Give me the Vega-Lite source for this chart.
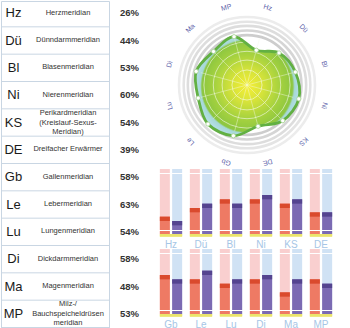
{
 "$schema": "https://vega.github.io/schema/vega-lite/v6.json",
 "padding": 0,
 "spacing": 0,
 "background": "#ffffff",
 "config": {"view": {"stroke": null}, "font": "Liberation Sans", "axisY": {"minExtent": 0}},
 "datasets": {
  "m": [
   {"code": "Hz", "name": "Herzmeridian", "pct": 26, "row": 1, "L": 4, "R": 3},
   {"code": "Dü", "name": "Dünndarmmeridian", "pct": 44, "row": 1, "L": 6, "R": 7},
   {"code": "Bl", "name": "Blasenmeridian", "pct": 53, "row": 1, "L": 8, "R": 7},
   {"code": "Ni", "name": "Nierenmeridian", "pct": 60, "row": 1, "L": 8, "R": 9},
   {"code": "KS", "name": "Perikardmeridian\n(Kreislauf-Sexus-\nMeridian)", "pct": 54, "row": 1, "L": 7, "R": 8},
   {"code": "DE", "name": "Dreifacher Erwärmer", "pct": 39, "row": 1, "L": 5, "R": 5},
   {"code": "Gb", "name": "Gallenmeridian", "pct": 58, "row": 2, "L": 9, "R": 8},
   {"code": "Le", "name": "Lebermeridian", "pct": 63, "row": 2, "L": 8, "R": 10},
   {"code": "Lu", "name": "Lungenmeridian", "pct": 54, "row": 2, "L": 7, "R": 8},
   {"code": "Di", "name": "Dickdarmmeridian", "pct": 58, "row": 2, "L": 8, "R": 9},
   {"code": "Ma", "name": "Magenmeridian", "pct": 48, "row": 2, "L": 5, "R": 8},
   {"code": "MP", "name": "Milz-/\nBauchspeicheldrüsen\nmeridian", "pct": 53, "row": 2, "L": 8, "R": 7}
  ],
  "rings": [{"u": 96}, {"u": 105}, {"u": 114}, {"u": 122}, {"u": 131}],
  "grid": [{"u": 29}, {"u": 48}, {"u": 65}, {"u": 83}]
 },
 "hconcat": [
  {
   "width": 108, "height": 328,
   "view": {"stroke": "#c9d6e3", "strokeWidth": 1},
   "data": {"name": "m"},
   "layer": [
    {"mark": {"type": "rule", "color": "#c9d6e3", "strokeWidth": 1, "yOffset": -1.5},
     "encoding": {"y": {"field": "code", "type": "nominal", "sort": null, "bandPosition": 1, "scale": {"type": "band", "paddingInner": 0, "paddingOuter": 0}, "axis": null}}},
    {"mark": {"type": "text", "fontSize": 13, "color": "#1a1a1a", "baseline": "middle", "dy": -1.5},
     "encoding": {
      "y": {"field": "code", "type": "nominal", "sort": null},
      "x": {"datum": "code", "type": "nominal", "scale": {"type": "point", "domain": ["code", "name"], "padding": 0.4908, "align": 0.2336}, "axis": null},
      "text": {"field": "code"}}},
    {"transform": [{"filter": "indexof(datum.name, '\\n') < 0"}],
     "mark": {"type": "text", "fontSize": 7.5, "color": "#333333", "baseline": "middle", "dy": -2},
     "encoding": {
      "y": {"field": "code", "type": "nominal", "sort": null},
      "x": {"datum": "name", "type": "nominal"},
      "text": {"field": "name"}}},
    {"transform": [{"filter": "indexof(datum.name, '\\n') >= 0"}],
     "mark": {"type": "text", "fontSize": 7.5, "color": "#333333", "lineBreak": "\n", "lineHeight": 9.5, "baseline": "middle", "dy": -11},
     "encoding": {
      "y": {"field": "code", "type": "nominal", "sort": null},
      "x": {"datum": "name", "type": "nominal"},
      "text": {"field": "name"}}}
   ]
  },
  {
   "width": 46, "height": 328,
   "data": {"name": "m"},
   "transform": [{"calculate": "datum.pct + '%'", "as": "lab"}],
   "mark": {"type": "text", "fontSize": 9.5, "fontWeight": "bold", "color": "#333333", "dx": -3.5, "dy": -1.5},
   "encoding": {
    "y": {"field": "code", "type": "nominal", "sort": null, "scale": {"type": "band", "paddingInner": 0, "paddingOuter": 0}, "axis": null},
    "text": {"field": "lab"}}
  },
  {
   "spacing": 0,
   "vconcat": [
    {
     "width": 182, "height": 168,
     "layer": [
      {"data": {"name": "rings"},
       "mark": {"type": "point", "shape": "circle", "filled": false, "strokeWidth": 2.6, "opacity": 1},
       "encoding": {
        "x": {"datum": 0, "type": "quantitative", "scale": {"domain": [-175.3, 175.3], "nice": false, "zero": false}, "axis": null},
        "y": {"datum": 0, "type": "quantitative", "scale": {"domain": [-161.85, 161.85], "nice": false, "zero": false}, "axis": null},
        "size": {"field": "u", "type": "quantitative", "scale": {"type": "pow", "exponent": 2, "domain": [0, 100], "range": [0, 10774]}, "legend": null},
        "color": {"field": "u", "type": "quantitative", "scale": {"range": ["#cdcdcd", "#ececec"]}, "legend": null}}},
      {"data": {"name": "m"},
       "transform": [
        {"window": [{"op": "row_number", "as": "idx"}]},
        {"calculate": "(datum.idx*30-15)*PI/180", "as": "th"},
        {"calculate": "(datum.pct+43.35)*sin(datum.th)", "as": "x"},
        {"calculate": "(datum.pct+43.35)*cos(datum.th)", "as": "y"}
       ],
       "mark": {"type": "line", "interpolate": "cardinal-closed", "strokeWidth": 0,
        "fill": {"gradient": "radial", "x1": 0.5, "y1": 0.5, "x2": 0.5, "y2": 0.5, "r1": 0, "r2": 0.5,
         "stops": [{"offset": 0, "color": "#f6ef36"}, {"offset": 0.3, "color": "#d6e33a"}, {"offset": 0.62, "color": "#a6d23f"}, {"offset": 0.87, "color": "#8cc640"}, {"offset": 0.9, "color": "#a6d8d6"}, {"offset": 1, "color": "#b4dee8"}]}},
       "encoding": {
        "x": {"field": "x", "type": "quantitative"},
        "y": {"field": "y", "type": "quantitative"},
        "order": {"field": "idx", "type": "quantitative"}}},
      {"data": {"name": "grid"},
       "mark": {"type": "point", "shape": "circle", "filled": false, "strokeWidth": 1, "stroke": "#ffffff", "opacity": 0.55},
       "encoding": {
        "x": {"datum": 0, "type": "quantitative"},
        "y": {"datum": 0, "type": "quantitative"},
        "size": {"field": "u", "type": "quantitative", "legend": null}}},
      {"data": {"name": "m"},
       "transform": [
        {"window": [{"op": "row_number", "as": "idx"}]},
        {"calculate": "(datum.idx*30-15)*PI/180", "as": "th"},
        {"calculate": "datum.idx*30-15", "as": "deg"},
        {"calculate": "(datum.pct+43.35)*sin(datum.th)", "as": "x"},
        {"calculate": "(datum.pct+43.35)*cos(datum.th)", "as": "y"},
        {"calculate": "92*sin(datum.th)", "as": "sx"},
        {"calculate": "92*cos(datum.th)", "as": "sy"},
        {"calculate": "154*sin(datum.th)", "as": "lx"},
        {"calculate": "154*cos(datum.th)", "as": "ly"}
       ],
       "layer": [
        {"mark": {"type": "rule", "color": "#f4f7e6", "opacity": 0.55, "strokeWidth": 0.8},
         "encoding": {
          "x": {"field": "sx", "type": "quantitative"},
          "y": {"field": "sy", "type": "quantitative"},
          "x2": {"datum": 0},
          "y2": {"datum": 0}}},
        {"mark": {"type": "line", "interpolate": "cardinal-closed", "strokeWidth": 2.8, "color": "#62b043"},
         "encoding": {
          "x": {"field": "x", "type": "quantitative"},
          "y": {"field": "y", "type": "quantitative"},
          "order": {"field": "idx", "type": "quantitative"}}},
        {"mark": {"type": "point", "shape": "circle", "filled": true, "fill": "#ffffff", "size": 18, "stroke": "#a5d38f", "strokeWidth": 0.8, "opacity": 1},
         "encoding": {
          "x": {"field": "x", "type": "quantitative"},
          "y": {"field": "y", "type": "quantitative"}}},
        {"mark": {"type": "text", "fontSize": 7, "color": "#5a5ea8", "align": "center", "baseline": "middle"},
         "encoding": {
          "x": {"field": "lx", "type": "quantitative"},
          "y": {"field": "ly", "type": "quantitative"},
          "angle": {"field": "deg", "type": "quantitative", "scale": null},
          "text": {"field": "code"}}}
       ]}
     ]
    },
    {
     "width": 180, "height": 65,
     "data": {"name": "m"},
     "transform": [{"filter": "datum.row == 1"}, {"fold": ["L", "R"], "as": ["side", "val"]}],
     "layer": [
      {"mark": {"type": "bar"},
       "encoding": {
        "x": {"field": "code", "type": "nominal", "sort": null, "scale": {"type": "band", "paddingInner": 0, "paddingOuter": 0}, "axis": {"title": null, "domain": false, "ticks": false, "labelAngle": 0, "labelColor": "#a6c6e6", "labelFontSize": 10, "labelPadding": 5}},
        "xOffset": {"field": "side", "type": "nominal", "scale": {"domain": ["L", "R"], "paddingInner": 0.187, "paddingOuter": 0.313}},
        "y": {"datum": 15, "type": "quantitative", "scale": {"domain": [0, 15], "nice": false}, "axis": {"title": null, "labels": false, "ticks": false, "domain": false, "grid": true, "gridColor": "#ffffff", "gridWidth": 1, "gridOpacity": 1, "values": [1, 2, 3, 4, 5, 6, 7, 8, 9, 10, 11, 12, 13, 14], "zindex": 1}},
        "color": {"condition": {"test": "datum.side == 'L'", "value": "#f9cfcf"}, "value": "#d0e2f4"}}},
      {"mark": {"type": "bar"},
       "encoding": {
        "x": {"field": "code", "type": "nominal", "sort": null},
        "xOffset": {"field": "side", "type": "nominal"},
        "y": {"field": "val", "type": "quantitative"},
        "color": {"condition": {"test": "datum.side == 'L'", "value": "#ee7a64"}, "value": "#7b6ab3"}}},
      {"mark": {"type": "tick", "thickness": 4.33, "size": 10, "yOffset": 2.17, "opacity": 1},
       "encoding": {
        "x": {"field": "code", "type": "nominal", "sort": null},
        "xOffset": {"field": "side", "type": "nominal"},
        "y": {"field": "val", "type": "quantitative"},
        "color": {"condition": {"test": "datum.side == 'L'", "value": "#da4a2d"}, "value": "#54448f"}}},
      {"mark": {"type": "tick", "thickness": 2.6, "size": 22.3, "yOffset": 1.3, "color": "#ebe56c", "opacity": 1},
       "encoding": {
        "x": {"field": "code", "type": "nominal", "sort": null},
        "y": {"datum": 0, "type": "quantitative"}}}
     ]
    },
    {
     "width": 180, "height": 65,
     "data": {"name": "m"},
     "transform": [{"filter": "datum.row == 2"}, {"fold": ["L", "R"], "as": ["side", "val"]}],
     "layer": [
      {"mark": {"type": "bar"},
       "encoding": {
        "x": {"field": "code", "type": "nominal", "sort": null, "scale": {"type": "band", "paddingInner": 0, "paddingOuter": 0}, "axis": {"title": null, "domain": false, "ticks": false, "labelAngle": 0, "labelColor": "#a6c6e6", "labelFontSize": 10, "labelPadding": 5}},
        "xOffset": {"field": "side", "type": "nominal", "scale": {"domain": ["L", "R"], "paddingInner": 0.187, "paddingOuter": 0.313}},
        "y": {"datum": 15, "type": "quantitative", "scale": {"domain": [0, 15], "nice": false}, "axis": {"title": null, "labels": false, "ticks": false, "domain": false, "grid": true, "gridColor": "#ffffff", "gridWidth": 1, "gridOpacity": 1, "values": [1, 2, 3, 4, 5, 6, 7, 8, 9, 10, 11, 12, 13, 14], "zindex": 1}},
        "color": {"condition": {"test": "datum.side == 'L'", "value": "#f9cfcf"}, "value": "#d0e2f4"}}},
      {"mark": {"type": "bar"},
       "encoding": {
        "x": {"field": "code", "type": "nominal", "sort": null},
        "xOffset": {"field": "side", "type": "nominal"},
        "y": {"field": "val", "type": "quantitative"},
        "color": {"condition": {"test": "datum.side == 'L'", "value": "#ee7a64"}, "value": "#7b6ab3"}}},
      {"mark": {"type": "tick", "thickness": 4.33, "size": 10, "yOffset": 2.17, "opacity": 1},
       "encoding": {
        "x": {"field": "code", "type": "nominal", "sort": null},
        "xOffset": {"field": "side", "type": "nominal"},
        "y": {"field": "val", "type": "quantitative"},
        "color": {"condition": {"test": "datum.side == 'L'", "value": "#da4a2d"}, "value": "#54448f"}}},
      {"mark": {"type": "tick", "thickness": 2.6, "size": 22.3, "yOffset": 1.3, "color": "#ebe56c", "opacity": 1},
       "encoding": {
        "x": {"field": "code", "type": "nominal", "sort": null},
        "y": {"datum": 0, "type": "quantitative"}}}
     ]
    }
   ]
  }
 ]
}
